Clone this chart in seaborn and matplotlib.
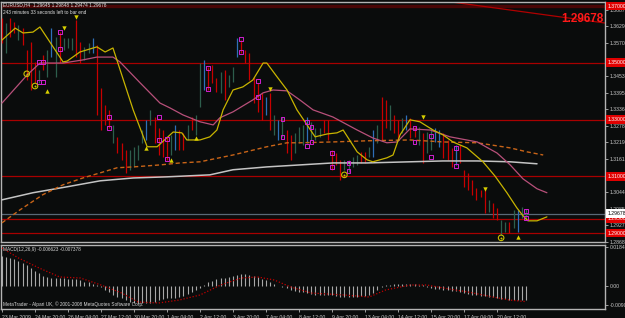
import numpy as np
import pandas as pd
import matplotlib
matplotlib.use("Agg")
import matplotlib.pyplot as plt
import matplotlib.transforms as mtransforms
import seaborn as sns

# ---------------- data ----------------
bar_high = [1.3658, 1.3640, 1.3658, 1.3644, 1.3633, 1.3622, 1.3545, 1.3573, 1.3503, 1.3474,
            1.3527, 1.3545, 1.3622, 1.3591, 1.3608, 1.3587, 1.3587, 1.3587, 1.3651, 1.3573,
            1.3555, 1.3570, 1.3587, 1.3562, 1.3411, 1.3351, 1.3334, 1.3281, 1.3239, 1.3217,
            1.3193, 1.3193, 1.3203, 1.3210, 1.3263, 1.3298, 1.3334, 1.3309, 1.3270, 1.3263,
            1.3239, 1.3246, 1.3281, 1.3263, 1.3253, 1.3281, 1.3309, 1.3316, 1.3499, 1.3510,
            1.3485, 1.3492, 1.3446, 1.3467, 1.3474, 1.3457, 1.3485, 1.3587, 1.3580, 1.3545,
            1.3534, 1.3450, 1.3429, 1.3394, 1.3380, 1.3394, 1.3316, 1.3298, 1.3309, 1.3263,
            1.3246, 1.3253, 1.3274, 1.3281, 1.3309, 1.3291, 1.3270, 1.3270, 1.3298, 1.3298,
            1.3193, 1.3182, 1.3157, 1.3157, 1.3157, 1.3168, 1.3175, 1.3186, 1.3186, 1.3203,
            1.3263, 1.3281, 1.3380, 1.3369, 1.3351, 1.3316, 1.3298, 1.3305, 1.3316, 1.3305,
            1.3274, 1.3274, 1.3253, 1.3256, 1.3270, 1.3270, 1.3263, 1.3253, 1.3228, 1.3200,
            1.3210, 1.3210, 1.3122, 1.3112, 1.3087, 1.3059, 1.3052, 1.3059, 1.3017, 1.3006,
            1.2988, 1.2946, 1.2939, 1.2939, 1.2981, 1.2981, 1.2992, 1.2985]
bar_low = [1.3570, 1.3534, 1.3591, 1.3605, 1.3580, 1.3562, 1.3439, 1.3404, 1.3429, 1.3429,
           1.3474, 1.3450, 1.3520, 1.3450, 1.3499, 1.3545, 1.3552, 1.3545, 1.3520, 1.3499,
           1.3510, 1.3534, 1.3534, 1.3316, 1.3263, 1.3281, 1.3270, 1.3217, 1.3182, 1.3157,
           1.3111, 1.3122, 1.3133, 1.3157, 1.3217, 1.3228, 1.3281, 1.3217, 1.3175, 1.3168,
           1.3157, 1.3175, 1.3193, 1.3193, 1.3193, 1.3228, 1.3263, 1.3246, 1.3344, 1.3404,
           1.3404, 1.3429, 1.3397, 1.3394, 1.3369, 1.3415, 1.3432, 1.3520, 1.3534, 1.3499,
           1.3439, 1.3358, 1.3327, 1.3299, 1.3316, 1.3263, 1.3246, 1.3228, 1.3239, 1.3182,
           1.3157, 1.3182, 1.3217, 1.3210, 1.3217, 1.3228, 1.3228, 1.3239, 1.3253, 1.3228,
           1.3122, 1.3140, 1.3087, 1.3122, 1.3115, 1.3133, 1.3140, 1.3147, 1.3147, 1.3168,
           1.3168, 1.3217, 1.3228, 1.3270, 1.3263, 1.3253, 1.3228, 1.3253, 1.3263, 1.3235,
           1.3239, 1.3210, 1.3147, 1.3182, 1.3193, 1.3221, 1.3203, 1.3165, 1.3157, 1.3133,
           1.3140, 1.3147, 1.3062, 1.3052, 1.3034, 1.3017, 1.3027, 1.2971, 1.2974, 1.2953,
           1.2946, 1.2893, 1.2904, 1.2900, 1.2918, 1.2904, 1.2953, 1.2947]
bar_dir = list("rgrrgrrrrg" "rgbgrgggrr" "ggbrrrrgrr" "rggggbgrrr" "rgbrrgrggb"
               "rrrgrggbrr" "rrrrbrgbgr" "rgggbgggrr" "rrrggggrrg" "bgrrgrrgbr"
               "rgrggbbrrr" "brrrrrrrgr" "rggrgbgg")

yellow_idx = [0, 3.2, 5.1, 7.5, 9.2, 14.8, 15.8, 18.9, 23, 25, 26.9, 31.8, 35.2, 37.6, 41.5,
              43.6, 44.8, 48, 50.4, 52.1, 53.6, 56, 58.4, 60.8, 63.3, 64.2, 66.7, 69.1, 71.5,
              75.9, 78.8, 81.2, 82.7, 86.1, 88.5, 89.9, 93.3, 94.8, 96.5, 98.9, 101.3, 104.5,
              106.9, 109.3, 112.7, 116.6, 119.5, 122.4, 124.8, 126.3, 127.5, 129.7, 132.1]
yellow_val = [1.3580, 1.3622, 1.3605, 1.3608, 1.3626, 1.3503, 1.3506, 1.3538, 1.3556, 1.3538,
              1.3552, 1.3334, 1.3204, 1.3204, 1.3256, 1.3253, 1.3228, 1.3228, 1.3239, 1.3263,
              1.3334, 1.3404, 1.3415, 1.3439, 1.3499, 1.3499, 1.3450, 1.3404, 1.3334, 1.3239,
              1.3249, 1.3253, 1.3263, 1.3186, 1.3158, 1.3151, 1.3165, 1.3175, 1.3246, 1.3299,
              1.3292, 1.3263, 1.3246, 1.3221, 1.3200, 1.3151, 1.3101, 1.3042, 1.2989, 1.2961,
              1.2943, 1.2943, 1.2957]
pink_idx = [0, 6.1, 9.2, 14.8, 19.6, 23, 26.9, 28.6, 33.5, 38.3, 40.7, 43.9, 48, 51.2, 52.8,
            56, 60.8, 63.3, 65.7, 69.1, 72.2, 75.4, 80.2, 86.1, 89.9, 93.3, 95.8, 98.9, 103.8,
            108.6, 115.2, 120, 123.2, 126.3, 129.7, 132.1]
pink_val = [1.3358, 1.3457, 1.3499, 1.3499, 1.3510, 1.3520, 1.3520, 1.3503, 1.3429, 1.3358,
            1.3341, 1.3316, 1.3292, 1.3281, 1.3306, 1.3327, 1.3369, 1.3394, 1.3404, 1.3401,
            1.3369, 1.3334, 1.3309, 1.3263, 1.3235, 1.3218, 1.3221, 1.3267, 1.3263, 1.3239,
            1.3221, 1.3182, 1.3140, 1.3091, 1.3056, 1.3042]
orange_idx = [0, 4.4, 9.9, 14.8, 19.6, 23.8, 27.9, 31.8, 38.3, 43.2, 48, 56, 64.2, 69.1, 72.2,
              80.2, 88.5, 98.9, 106.9, 115.2, 123.2, 127.3, 131.2]
orange_val = [1.2936, 1.2982, 1.3035, 1.3070, 1.3094, 1.3112, 1.3130, 1.3133, 1.3140, 1.3147,
              1.3151, 1.3175, 1.3204, 1.3218, 1.3218, 1.3221, 1.3225, 1.3228, 1.3221, 1.3218,
              1.3200, 1.3186, 1.3175]
white_idx = [0, 7.5, 15.8, 23.8, 31.8, 40, 50.4, 56, 64.2, 72.2, 80.2, 88.5, 98.9, 106.9,
             115.2, 123.2, 129.7]
white_val = [1.3017, 1.3042, 1.3063, 1.3084, 1.3094, 1.3098, 1.3105, 1.3123, 1.3133, 1.3140,
             1.3147, 1.3147, 1.3151, 1.3154, 1.3154, 1.3151, 1.3144]

square_idx = [9, 10, 9, 10, 14, 14, 26, 26, 38, 38, 40, 40, 50, 50, 58, 58, 62, 62, 68, 68,
              74, 74, 75, 75, 80, 80, 84, 84, 100, 100, 104, 104, 110, 110, 127, 127]
square_val = [1.3503, 1.3503, 1.3432, 1.3432, 1.3608, 1.3549, 1.3309, 1.3270, 1.3309, 1.3228,
              1.3232, 1.3161, 1.3482, 1.3408, 1.3584, 1.3538, 1.3436, 1.3380, 1.3302, 1.3239,
              1.3292, 1.3207, 1.3274, 1.3221, 1.3182, 1.3133, 1.3147, 1.3119, 1.3270, 1.3221,
              1.3242, 1.3168, 1.3200, 1.3137, 1.2978, 1.2954]
down_idx = [15, 18, 65, 102, 117]
down_val = [1.3622, 1.3660, 1.3408, 1.3309, 1.3056]
up_idx = [11, 35, 41, 47, 125]
up_val = [1.3401, 1.3200, 1.3158, 1.3235, 1.2887]
circle_idx = [6, 8, 83, 121]
circle_val = [1.3461, 1.3418, 1.3105, 1.2883]

level_prices = [1.37, 1.35, 1.33, 1.31, 1.295, 1.29]
last_price = 1.29678
trend_idx = [100.0, 146.2]
trend_val = [1.37320, 1.36400]
price_ticks = [1.28685, 1.29270, 1.29855, 1.30440, 1.31025, 1.31610, 1.32195, 1.32780,
               1.33365, 1.33950, 1.34535, 1.35120, 1.35705, 1.36290, 1.36875]
hidden_ticks = [1.31025, 1.35120]   # covered by the level boxes

macd_hist = [0.01419, 0.01372, 0.01324, 0.01277, 0.01183, 0.01088, 0.00993, 0.00851, 0.00710, 0.00615,
             0.00473, 0.00426, 0.00378, 0.00378, 0.00378, 0.00378, 0.00331, 0.00331, 0.00331, 0.00284,
             0.00189, 0.00189, 0.00095, 0.00024, -0.00047, -0.00189, -0.00284, -0.00426, -0.00520, -0.00568,
             -0.00662, -0.00757, -0.00804, -0.00804, -0.00804, -0.00804, -0.00804, -0.00757, -0.00662, -0.00615,
             -0.00568, -0.00568, -0.00568, -0.00520, -0.00473, -0.00378, -0.00284, -0.00189, -0.00095, 0.00047,
             0.00189, 0.00237, 0.00331, 0.00378, 0.00378, 0.00426, 0.00473, 0.00520, 0.00568, 0.00568,
             0.00520, 0.00473, 0.00426, 0.00331, 0.00284, 0.00189, 0.00095, 0.00010, -0.00024, -0.00095,
             -0.00189, -0.00237, -0.00284, -0.00284, -0.00331, -0.00378, -0.00426, -0.00426, -0.00426, -0.00426,
             -0.00426, -0.00473, -0.00520, -0.00520, -0.00520, -0.00520, -0.00520, -0.00473, -0.00473, -0.00426,
             -0.00331, -0.00189, -0.00047, 0.00047, 0.00047, 0.00095, 0.00095, 0.00095, 0.00095, 0.00095,
             0.00095, 0.00047, 0.00047, -0.00024, -0.00095, -0.00142, -0.00142, -0.00189, -0.00189, -0.00237,
             -0.00237, -0.00284, -0.00331, -0.00378, -0.00426, -0.00426, -0.00473, -0.00473, -0.00520, -0.00520,
             -0.00568, -0.00615, -0.00615, -0.00662, -0.00662, -0.00662, -0.00662, -0.00662]
signal_idx = [0, 4, 9, 14, 19, 24, 29, 33, 38, 43, 48, 53, 58, 62, 66, 70, 75, 83, 89, 93, 99,
              103, 107, 113, 119, 123, 127]
signal_val = [0.01797, 0.01324, 0.00851, 0.00426, 0.00378, 0.00047, -0.00331, -0.00757, -0.00804,
              -0.00662, -0.00426, 0.00047, 0.00378, 0.00426, 0.00284, -0.00047, -0.00331, -0.00426,
              -0.00520, -0.00189, 0.00047, 0.00047, -0.00095, -0.00284, -0.00520, -0.00662, -0.00738]
macd_ticks = [0.018466, 0.0, -0.009050]
macd_tick_labels = ["0.018466", "0.00", "-0.009050"]

time_tick_idx = [0, 8, 16, 24, 32, 40, 48, 56, 64, 72, 80, 88, 96, 104, 112, 120]
time_tick_labels = ["23 Mar 2009", "24 Mar 20:00", "26 Mar 04:00", "27 Mar 12:00",
                    "30 Mar 20:00", "1 Apr 04:00", "2 Apr 12:00", "3 Apr 20:00",
                    "7 Apr 04:00", "8 Apr 12:00", "9 Apr 20:00", "13 Apr 04:00",
                    "14 Apr 12:00", "15 Apr 20:00", "17 Apr 04:00", "20 Apr 12:00"]

title_text = "EURUSD,H4  1.29645 1.29848 1.29474 1.29678"
timer_text = "243 minutes 33 seconds left to bar end"
macd_text = "MACD(12,26,9) -0.006623 -0.007378"
copyright_text = "MetaTrader - Alpari UK, \u00a9 2001-2008 MetaQuotes Software Corp."

# ---------------- style ----------------
sns.set_theme(style="dark")
BG = "#0a0c0c"
AXC = "#b4b4b4"
plt.rcParams["font.family"] = ["Liberation Sans", "DejaVu Sans"]
plt.rcParams["axes.facecolor"] = BG
plt.rcParams["figure.facecolor"] = BG

W, H = 625, 318
fig = plt.figure(figsize=(W / 100, H / 100), dpi=100)
fig.patch.set_facecolor(BG)


def px_axes(x0, y0, x1, y1):
    return fig.add_axes([x0 / W, 1 - y1 / H, (x1 - x0) / W, (y1 - y0) / H])


ax = px_axes(1, 2, 605, 242)
mx = px_axes(1, 245, 605, 309)
for a in (ax, mx):
    a.set_facecolor(BG)
    a.set_xlim(-0.24, 146.18)
    a.grid(False)
    for s in a.spines.values():
        s.set_color(AXC)
        s.set_linewidth(1.0)
        s.set_visible(True)
ax.set_ylim(1.28684, 1.37141)
mx.set_ylim(-0.010879, 0.019393)

# ---- main panel ----
bars = pd.DataFrame({"bar": np.arange(len(bar_high)), "high": bar_high,
                     "low": bar_low, "dir": bar_dir})
bar_colors = {"r": "#c80000", "b": "#2e6fb8", "g": "#2d5e4c"}
for key, grp in bars.groupby("dir"):
    ax.vlines(grp["bar"], grp["low"], grp["high"], colors=bar_colors[key],
              linewidth=0.9, zorder=3)

# horizontal levels
for p in level_prices:
    if p == 1.37:
        ax.axhline(p, color="#4a0606", lw=2.4, zorder=1)
    else:
        ax.axhline(p, color="#a80000", lw=0.9, zorder=1)
ax.axhline(last_price, color="#5a6876", lw=0.9, zorder=1)
sns.lineplot(x=trend_idx, y=trend_val, ax=ax, color="#b00000", lw=0.9,
             estimator=None, sort=False, zorder=2)

# moving averages
sns.lineplot(x=white_idx, y=white_val, ax=ax, color="#c4c4c4", lw=1.1,
             estimator=None, sort=False, zorder=4)
sns.lineplot(x=orange_idx, y=orange_val, ax=ax, color="#c86418", lw=1.0,
             linestyle=(0, (3, 2)), estimator=None, sort=False, zorder=4)
sns.lineplot(x=pink_idx, y=pink_val, ax=ax, color="#b8507a", lw=0.9,
             estimator=None, sort=False, zorder=4)
sns.lineplot(x=yellow_idx, y=yellow_val, ax=ax, color="#c8b400", lw=0.9,
             estimator=None, sort=False, zorder=5)

# markers
ax.scatter(square_idx, square_val, marker="s", s=7, facecolors="none",
           edgecolors="#d020d0", linewidths=0.7, zorder=6)
ax.scatter(down_idx, down_val, marker="v", s=10, color="#d8d000", linewidths=0, zorder=6)
ax.scatter(up_idx, up_val, marker="^", s=10, color="#d8d000", linewidths=0, zorder=6)
ax.scatter(circle_idx, circle_val, marker="o", s=16, facecolors="none",
           edgecolors="#c8c000", linewidths=0.8, zorder=6)
ax.scatter(circle_idx, circle_val, marker="o", s=2, color="#c8c000", linewidths=0, zorder=6)

# right price axis
ax.yaxis.tick_right()
ax.set_yticks(price_ticks)
ax.set_yticklabels(["" if v in hidden_ticks else f"{v:.5f}" for v in price_ticks])
ax.tick_params(axis="y", right=True, left=False, length=2.5, width=0.6, color=AXC,
               labelsize=3.7, labelcolor="#c8c8c8", pad=1.2)
ax.set_xticks([])
ax.set_xlabel("")
ax.set_ylabel("")

tr = mtransforms.blended_transform_factory(ax.transAxes, ax.transData)
for p in level_prices:
    ax.text(1.004, p, f"{p:.5f}", transform=tr, fontsize=3.7, color="#ffffff",
            va="center", ha="left", clip_on=False, zorder=10,
            bbox=dict(boxstyle="square,pad=0.35", fc="#e00000", ec="none"))
ax.text(1.004, last_price, f"{last_price:.5f}", transform=tr, fontsize=3.7, color="#000000",
        va="center", ha="left", clip_on=False, zorder=10,
        bbox=dict(boxstyle="square,pad=0.35", fc="#ffffff", ec="none"))

# ---- MACD panel ----
macd_df = pd.DataFrame({"bar": np.arange(len(macd_hist)), "macd": macd_hist})
mx.vlines(macd_df["bar"], 0, macd_df["macd"], colors="#a8a8a8", linewidth=0.8, zorder=2)
sns.lineplot(x=signal_idx, y=signal_val, ax=mx, color="#c00000", lw=0.9,
             linestyle=(0, (1, 1.5)), estimator=None, sort=False, zorder=3)
mx.yaxis.tick_right()
mx.set_yticks(macd_ticks)
mx.set_yticklabels(macd_tick_labels)
mx.tick_params(axis="y", right=True, left=False, length=2.5, width=0.6, color=AXC,
               labelsize=3.7, labelcolor="#c8c8c8", pad=1.2)
mx.set_xticks(time_tick_idx)
mx.set_xticklabels(time_tick_labels, ha="left")
mx.tick_params(axis="x", bottom=True, length=2.5, width=0.6, color=AXC,
               labelsize=3.7, labelcolor="#c8c8c8", pad=1.5)
mx.set_xlabel("")
mx.set_ylabel("")

# ---- texts ----
fig.text(3 / W, 1 - 5 / H, title_text, fontsize=3.4, color="#e0e0e0", va="center", ha="left")
fig.text(3 / W, 1 - 12 / H, timer_text, fontsize=3.4, color="#e0e0e0", va="center", ha="left")
fig.text(3 / W, 1 - 249 / H, macd_text, fontsize=3.4, color="#d8d8d8", va="center", ha="left")
fig.text(3 / W, 1 - 304 / H, copyright_text, fontsize=3.4, color="#d8d8d8", va="center", ha="left")
fig.text(603 / W, 1 - 19 / H, "1.29678", fontsize=8.5, fontweight="bold", color="#ff1a1a",
         va="center", ha="right", zorder=20)

fig.savefig("out.png", dpi=100, facecolor=BG)
